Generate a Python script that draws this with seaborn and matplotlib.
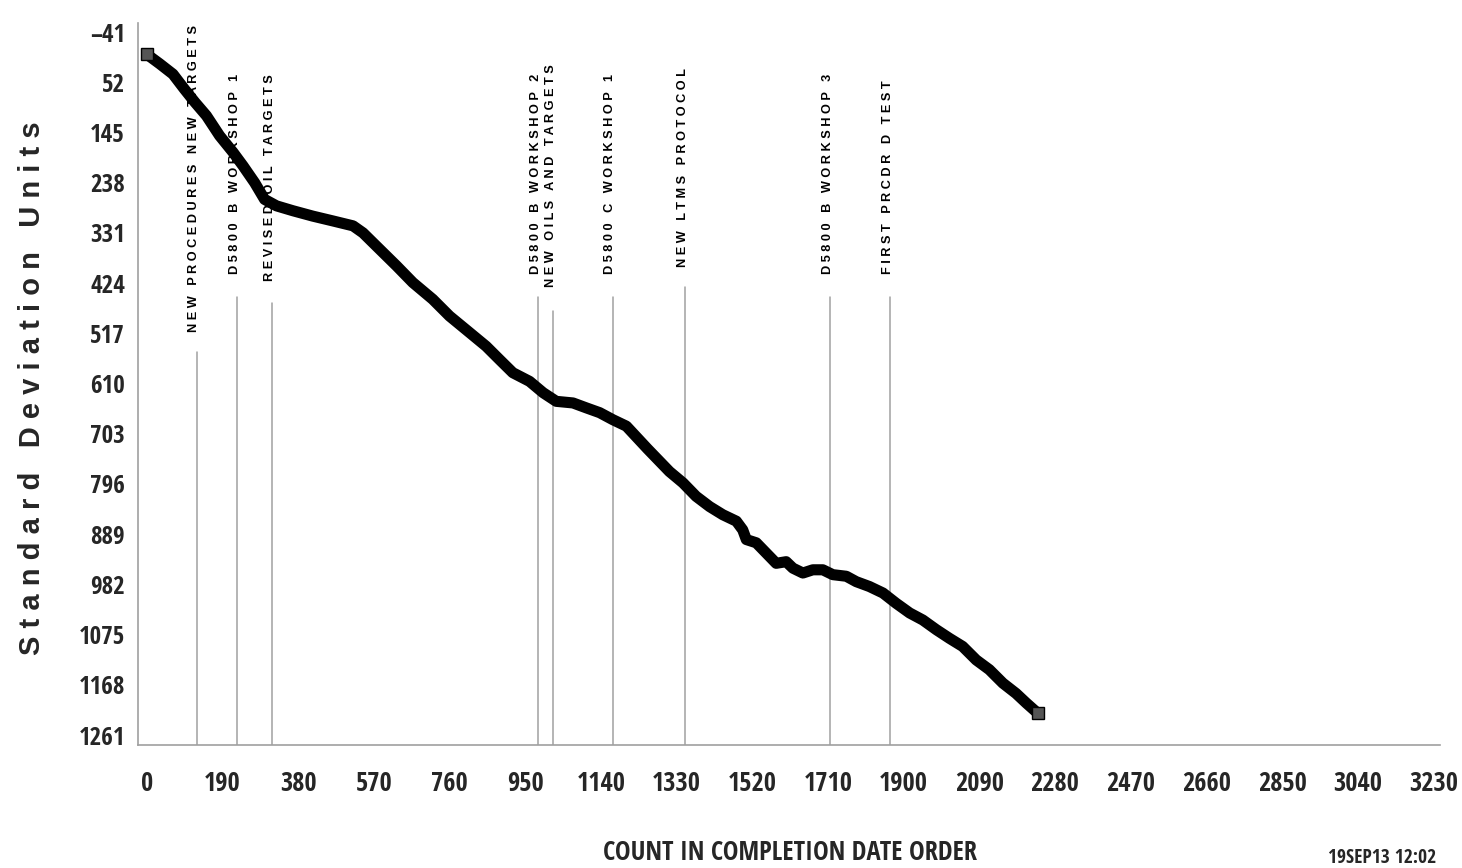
import matplotlib
matplotlib.use("Agg")
import matplotlib.pyplot as plt
from matplotlib import font_manager as fm
from matplotlib.font_manager import FontProperties
from matplotlib.ticker import FixedLocator, MultipleLocator
import numpy as np
import pandas as pd
import seaborn as sns

# ---------------- data ----------------
count = [0, 33, 66, 95, 121, 150, 183, 217, 242, 271, 296, 326, 367, 417, 468, 518,
         543, 576, 627, 668, 718, 760, 811, 852, 886, 919, 961, 995, 1028, 1070,
         1103, 1137, 1170, 1204, 1257, 1312, 1346, 1379, 1413, 1446, 1480, 1496,
         1505, 1530, 1555, 1580, 1605, 1622, 1647, 1672, 1697, 1722, 1756, 1781,
         1814, 1848, 1881, 1915, 1948, 1982, 2015, 2048, 2082, 2115, 2149, 2182,
         2208, 2237]
sdu = [0, 18, 37, 65, 89, 114, 151, 182, 207, 238, 269, 281, 290, 300, 309, 318,
       331, 355, 392, 423, 454, 485, 516, 541, 566, 590, 606, 627, 643, 646,
       655, 664, 677, 689, 731, 773, 794, 819, 838, 853, 865, 881,
       899, 905, 924, 943, 940, 952, 961, 955, 955, 964, 967, 977,
       986, 998, 1017, 1035, 1048, 1066, 1082, 1097, 1122, 1140, 1165, 1184,
       1202, 1221]

events = ["NEW PROCEDURES NEW TARGETS", "D5800 B WORKSHOP 1", "REVISED OIL TARGETS",
          "D5800 B WORKSHOP 2", "NEW OILS AND TARGETS", "D5800 C WORKSHOP 1",
          "NEW LTMS PROTOCOL", "D5800 B WORKSHOP 3", "FIRST PRCDR D TEST"]
event_count = [126, 227, 315, 982, 1020, 1170, 1351, 1715, 1866]

y_ticks = [-41, 52, 145, 238, 331, 424, 517, 610, 703, 796, 889, 982, 1075, 1168, 1261]
x_ticks = [0, 190, 380, 570, 760, 950, 1140, 1330, 1520, 1710, 1900, 2090, 2280,
           2470, 2660, 2850, 3040, 3230]

y_title = "Standard Deviation Units"
x_title = "COUNT IN COMPLETION DATE ORDER"
stamp = "19SEP13 12:02"

# layout of annotation (line tops / text bottoms in data units)
line_top = [552, 449, 460, 449, 476, 449, 432, 449, 449]
text_bottom = [514, 408, 421, 408, 432, 408, 395, 408, 408]

# ---------------- style ----------------
sns.set_style("white")
plt.rcParams["font.family"] = ["Liberation Sans", "DejaVu Sans"]


def _wt(f):
    w = f.weight
    if isinstance(w, str):
        w = {"bold": 700, "heavy": 800, "black": 900, "semibold": 600,
             "demibold": 600, "extra bold": 800}.get(w.lower(), 400)
    return int(w)


def find_condensed():
    best = None
    for f in fm.fontManager.ttflist:
        st = str(f.stretch)
        cond = st in ("condensed", "semi-condensed") or st in ("300", "375", "400") \
            or "Narrow" in f.name or "Condensed" in f.name
        if not cond or f.style != "normal":
            continue
        score = 0
        if "Liberation" in f.name:
            score += 30
        elif "Noto Sans" in f.name and "CJK" not in f.name and "Mono" not in f.name:
            score += 20
        elif "Roboto" in f.name or "Open Sans" in f.name:
            score += 10
        else:
            continue
        w = _wt(f)
        if w == 700:
            score += 5
        elif w >= 600:
            score += 2
        if best is None or score > best[0]:
            best = (score, f.fname)
    return best[1] if best else None


cond_path = find_condensed()


def cprop(size):
    if cond_path:
        return FontProperties(fname=cond_path, size=size)
    return FontProperties(family="Liberation Sans", weight="bold", size=size * 0.85)


gray = "#a0a0a0"

fig = plt.figure(figsize=(14.62, 8.68), dpi=100)
ax = fig.add_axes([137.5 / 1462, (868 - 745) / 868, (1440 - 137.5) / 1462, (745 - 23) / 868])

df = pd.DataFrame({"count": count, "sdu": sdu})
sns.lineplot(data=df, x="count", y="sdu", ax=ax, color="black", linewidth=8,
             sort=False, estimator=None, solid_joinstyle="round", solid_capstyle="round")
ax.plot(count[:1], sdu[:1], marker="s", markersize=9, color="black", mfc="#555555")
ax.plot(count[-1:], sdu[-1:], marker="s", markersize=9, color="black", mfc="#555555")

ax.set_xlim(-23, 3246)
ax.set_ylim(1279.5, -57.7)


def spaced(s, gap="   "):
    return gap.join(" ".join(w) for w in s.split())


for name, xc, lt, tb in zip(events, event_count, line_top, text_bottom):
    ax.plot([xc, xc], [1279.5, lt], color=gray, linewidth=1.1, zorder=1)
    ax.text(xc - 6, tb, spaced(name), rotation=90, ha="center", va="bottom",
            fontsize=9.2, fontweight="bold", color="black", family="Liberation Sans")

# axes / ticks
for s in ["top", "right"]:
    ax.spines[s].set_visible(False)
for s in ["left", "bottom"]:
    ax.spines[s].set_color(gray)
    ax.spines[s].set_linewidth(1.2)

ax.yaxis.set_major_locator(FixedLocator(y_ticks))
ax.yaxis.set_minor_locator(MultipleLocator(31, offset=-41))
ax.xaxis.set_major_locator(FixedLocator(x_ticks))
ax.xaxis.set_minor_locator(MultipleLocator(38))
ax.set_yticklabels([str(v).replace("-", "\u2013") for v in y_ticks])
ax.set_xticklabels([str(v) for v in x_ticks])

ax.tick_params(axis="y", which="both", direction="out", length=4, width=1, color=gray,
               pad=5)
ax.tick_params(axis="x", which="major", direction="out", length=8, width=1, color=gray,
               pad=10)
ax.tick_params(axis="x", which="minor", direction="out", length=5, width=1, color=gray)
for lab in ax.get_yticklabels():
    lab.set_fontproperties(cprop(18))
for lab in ax.get_xticklabels():
    lab.set_fontproperties(cprop(19))

ax.set_xlabel("")
ax.set_ylabel("")

fig.text(32 / 1462, 1 - 388 / 868, spaced(y_title), rotation=90, ha="center", va="center",
         fontsize=21, fontweight="bold", family="Liberation Sans")
fig.text(790 / 1462, 1 - 853 / 868, x_title, ha="center", va="center",
         fontproperties=cprop(19))
fig.text(1328 / 1462, 1 - 848 / 868, stamp, ha="left", va="top",
         fontproperties=cprop(14))

fig.savefig("out.png", dpi=100)
